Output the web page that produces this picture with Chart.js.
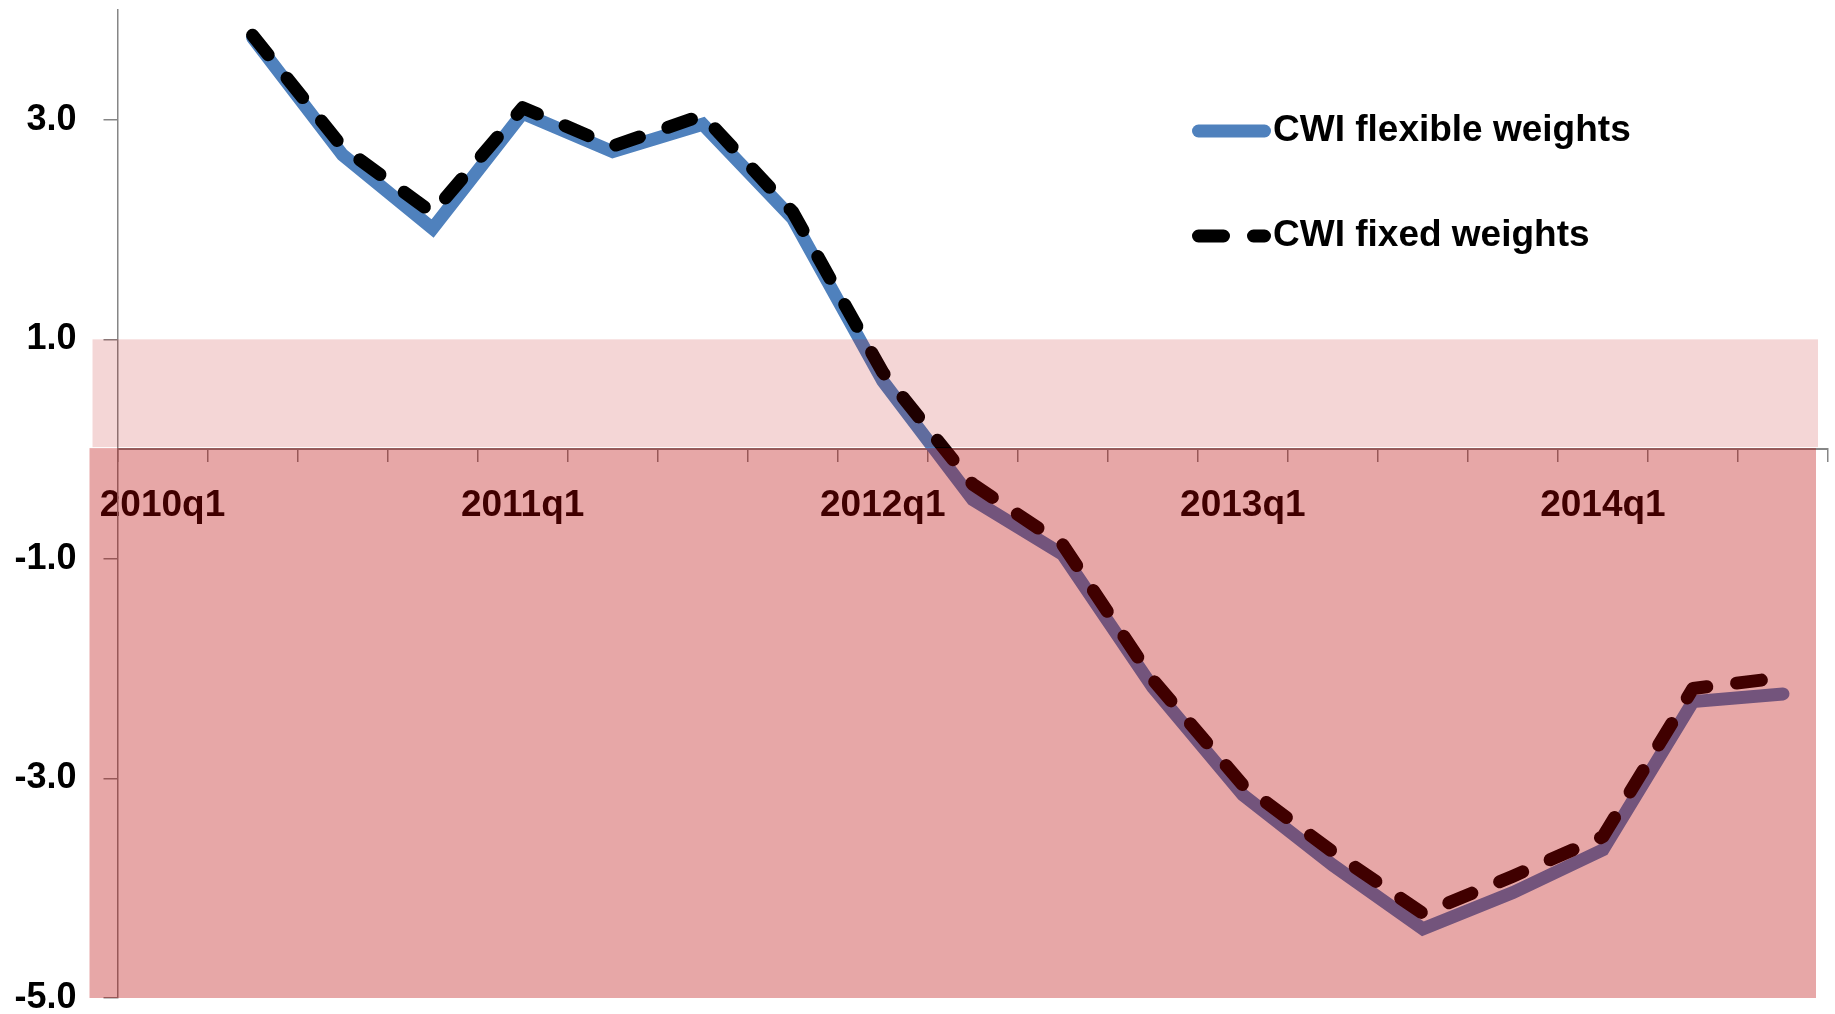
<!DOCTYPE html>
<html>
<head>
<meta charset="utf-8">
<script src="https://cdn.jsdelivr.net/npm/chart.js@4.4.1/dist/chart.umd.min.js"></script>
<style>
  html, body { margin: 0; padding: 0; background: #fff; }
  #wrap { width: 1835px; height: 1014px; position: relative; }
</style>
</head>
<body>
<div id="wrap"><canvas id="cwiChart"></canvas></div>
<script>
// Data
const quarters = [
  '2010q1', '2010q2', '2010q3', '2010q4',
  '2011q1', '2011q2', '2011q3', '2011q4',
  '2012q1', '2012q2', '2012q3', '2012q4',
  '2013q1', '2013q2', '2013q3', '2013q4',
  '2014q1', '2014q2', '2014q3'
];
const shownLabels = ['2010q1', '2011q1', '2012q1', '2013q1', '2014q1'];
const flexibleWeights = [null, 3.75, 2.68, 2.01, 3.06, 2.71, 2.96, 2.10, 0.62, -0.46, -0.96, -2.17, -3.15, -3.79, -4.37, -4.04, -3.65, -2.30, -2.23];
const fixedWeights = [null, 3.77, 2.75, 2.15, 3.11, 2.76, 3.04, 2.16, 0.70, -0.32, -0.87, -2.10, -3.06, -3.67, -4.23, -3.89, -3.53, -2.18, -2.08];
const yTicks = [-5, -3, -1, 1, 3];
const yMin = -5;
const yMax = 4;
const bandLimits = [[0, 1], [-5, 0]];

const fontFamily = "'Liberation Sans', Arial, sans-serif";
const axisColor = '#868686';

// Shaded zones painted over everything (like the original)
const bandsPlugin = {
  id: 'bands',
  afterDraw(chart) {
    const { ctx, chartArea, scales } = chart;
    const y = scales.y;
    const light = bandLimits[0];
    const dark = bandLimits[1];
    ctx.save();
    ctx.fillStyle = 'rgba(185, 0, 0, 0.16)';
    const lTop = y.getPixelForValue(light[1]);
    const lBot = y.getPixelForValue(light[0]) - 2;
    ctx.fillRect(chartArea.left - 25, lTop, chartArea.right - 10 - (chartArea.left - 25), lBot - lTop);
    ctx.fillStyle = 'rgba(185, 0, 0, 0.345)';
    const dTop = y.getPixelForValue(dark[1]) - 1;
    const dBot = y.getPixelForValue(dark[0]);
    ctx.fillRect(chartArea.left - 28, dTop, chartArea.right - 12 - (chartArea.left - 28), dBot - dTop);
    ctx.restore();
  }
};

// Legend drawn at the upper right
const legendPlugin = {
  id: 'customLegend',
  afterDatasetsDraw(chart) {
    const { ctx } = chart;
    const items = [chart.data.datasets[0], chart.data.datasets[1]];
    const x0 = 1198.5, x1 = 1264.5;
    const rows = [131, 236];
    ctx.save();
    items.forEach((ds, i) => {
      const yy = rows[i];
      ctx.beginPath();
      ctx.lineWidth = ds.borderWidth;
      ctx.strokeStyle = ds.borderColor;
      ctx.lineCap = 'round';
      ctx.setLineDash(ds.borderDash || []);
      ctx.moveTo(x0, yy);
      ctx.lineTo(x1, yy);
      ctx.stroke();
      ctx.setLineDash([]);
      ctx.fillStyle = '#000';
      ctx.font = 'bold 37px ' + fontFamily;
      ctx.textBaseline = 'middle';
      ctx.textAlign = 'left';
      ctx.fillText(ds.label, 1273, yy);
    });
    ctx.restore();
  }
};

const ctx = document.getElementById('cwiChart');
new Chart(ctx, {
  type: 'line',
  data: {
    labels: quarters,
    datasets: [
      {
        label: 'CWI flexible weights',
        data: flexibleWeights,
        borderColor: '#4F81BD',
        borderWidth: 13,
        borderCapStyle: 'round',
        borderJoinStyle: 'miter',
        pointRadius: 0,
        tension: 0,
        order: 1
      },
      {
        label: 'CWI fixed weights',
        data: fixedWeights,
        borderColor: '#000000',
        borderWidth: 13,
        borderDash: [25, 30],
        borderCapStyle: 'round',
        borderJoinStyle: 'round',
        pointRadius: 0,
        tension: 0,
        order: 0
      }
    ]
  },
  options: {
    responsive: true,
    maintainAspectRatio: false,
    animation: false,
    layout: { padding: { top: 10, bottom: 16, left: 0, right: 7 } },
    plugins: {
      legend: { display: false },
      tooltip: { enabled: false }
    },
    scales: {
      x: {
        type: 'category',
        position: { y: 0 },
        offset: true,
        grid: {
          offset: true,
          drawOnChartArea: false,
          drawTicks: true,
          tickLength: 12,
          color: axisColor,
          lineWidth: 1.5
        },
        border: { color: axisColor, width: 2 },
        ticks: {
          autoSkip: false,
          maxRotation: 0,
          padding: 22,
          color: '#000',
          font: { family: fontFamily, size: 37, weight: 'bold' },
          callback: function(value) {
            const lab = this.getLabelForValue(value);
            return shownLabels.includes(lab) ? lab : '';
          }
        },
        afterFit(scale) {
          scale.paddingLeft = 0;
          scale.paddingRight = 0;
        }
      },
      y: {
        min: yMin,
        max: yMax,
        grid: {
          drawOnChartArea: false,
          drawTicks: true,
          tickLength: 14,
          color: axisColor,
          lineWidth: 1.5
        },
        border: { color: axisColor, width: 1.5 },
        ticks: {
          padding: 27,
          color: '#000',
          font: { family: fontFamily, size: 36, weight: 'bold' },
          callback: function(value) {
            return value.toFixed(1);
          }
        },
        afterBuildTicks(scale) {
          scale.ticks = yTicks.map(v => ({ value: v }));
        },
        afterFit(scale) {
          scale.width = 117.5;
          scale.paddingTop = 0;
          scale.paddingBottom = 0;
        }
      }
    }
  },
  plugins: [legendPlugin, bandsPlugin]
});
</script>
</body>
</html>
